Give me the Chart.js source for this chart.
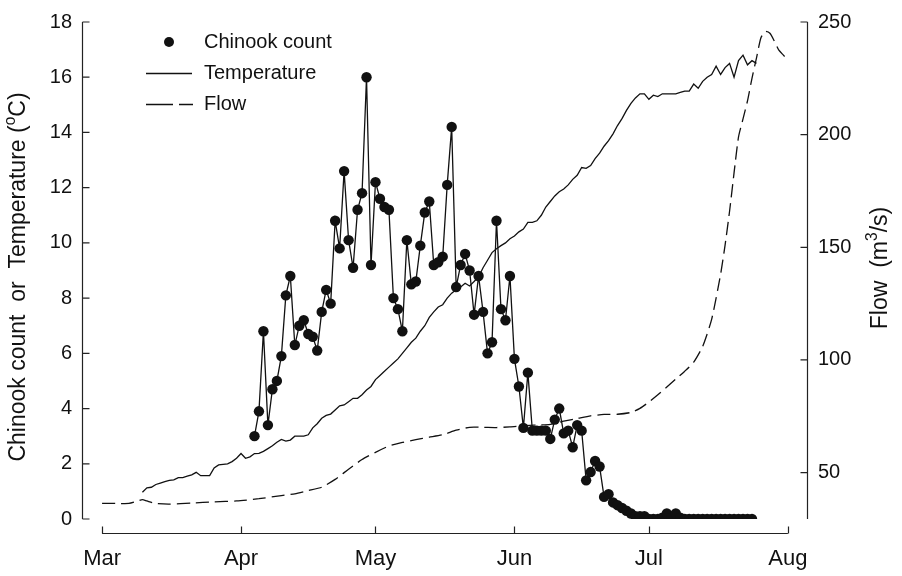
<!DOCTYPE html>
<html>
<head>
<meta charset="utf-8">
<script src="https://cdn.jsdelivr.net/npm/chart.js@4.4.1/dist/chart.umd.min.js"></script>
<style>
  body { margin: 0; background: #fff; }
  #wrap { width: 902px; height: 576px; }
</style>
</head>
<body>
<div id="wrap"><canvas id="chart" width="902" height="576"></canvas></div>
<script>
// days are counted from 1 March (day 0)
const monthDays = [0, 31, 61, 92, 122, 153];
const monthLabels = ['Mar', 'Apr', 'May', 'Jun', 'Jul', 'Aug'];
const leftTicks = [0, 2, 4, 6, 8, 10, 12, 14, 16, 18];
const flowTicks = [50, 100, 150, 200, 250];

// daily Chinook count, 4 Apr .. 24 Jul
const chinookStart = 34;
const chinookCount = [
  3.0, 3.9, 6.8, 3.4, 4.7, 5.0, 5.9, 8.1, 8.8, 6.3,
  7.0, 7.2, 6.7, 6.6, 6.1, 7.5, 8.3, 7.8, 10.8, 9.8,
  12.6, 10.1, 9.1, 11.2, 11.8, 16.0, 9.2, 12.2, 11.6, 11.3,
  11.2, 8.0, 7.6, 6.8, 10.1, 8.5, 8.6, 9.9, 11.1, 11.5,
  9.2, 9.3, 9.5, 12.1, 14.2, 8.4, 9.2, 9.6, 9.0, 7.4,
  8.8, 7.5, 6.0, 6.4, 10.8, 7.6, 7.2, 8.8, 5.8, 4.8,
  3.3, 5.3, 3.2, 3.2, 3.2, 3.2, 2.9, 3.6, 4.0, 3.1,
  3.2, 2.6, 3.4, 3.2, 1.4, 1.7, 2.1, 1.9, 0.8, 0.9,
  0.6, 0.5, 0.4, 0.3, 0.2, 0.1, 0.1, 0.1, 0, 0,
  0, 0.05, 0.2, 0.05, 0.2, 0.05, 0, 0, 0, 0,
  0, 0, 0, 0, 0, 0, 0, 0, 0, 0, 0, 0
];

// daily water temperature (°C), 10 Mar .. 25 Jul
const tempStart = 9;
const temperature = [
  0.97, 1.13, 1.15, 1.25, 1.3, 1.35, 1.4, 1.42, 1.5, 1.5,
  1.55, 1.6, 1.69, 1.57, 1.57, 1.57, 1.85, 1.96, 1.98, 2.0,
  2.08, 2.2, 2.37, 2.2, 2.25, 2.37, 2.38, 2.45, 2.55, 2.65,
  2.78, 2.88, 2.82, 2.86, 3.0, 3.0, 3.0, 3.05, 3.3, 3.45,
  3.65, 3.75, 3.8, 3.95, 4.1, 4.13, 4.25, 4.37, 4.37, 4.5,
  4.67, 4.8, 5.05, 5.2, 5.35, 5.5, 5.65, 5.8, 6.0, 6.2,
  6.4, 6.55, 6.8, 7.0, 7.3, 7.5, 7.68, 7.76, 8.0, 8.18,
  8.3, 8.4, 8.54, 8.44, 8.6, 8.77, 9.1, 9.37, 9.65, 9.79,
  9.9, 10.0, 10.15, 10.25, 10.4, 10.5, 10.74, 10.74, 10.8, 11.0,
  11.3, 11.5, 11.7, 11.85, 11.95, 12.1, 12.3, 12.45, 12.73, 12.7,
  12.8, 13.05, 13.25, 13.5, 13.7, 13.95, 14.25, 14.5, 14.8, 15.05,
  15.25, 15.4, 15.4, 15.2, 15.35, 15.3, 15.4, 15.4, 15.4, 15.4,
  15.45, 15.5, 15.5, 15.75, 15.6, 15.85, 16.0, 16.1, 16.4, 16.1,
  16.35, 16.5, 16.0, 16.6, 16.8, 16.45, 16.6, 16.5
];

// river flow (m3/s)
const flowDays = [0, 3, 6, 8, 9, 10, 12, 15, 20, 25, 30, 35, 40, 43, 46, 49, 52, 55, 58, 61,
  64, 67, 70, 73, 76, 79, 82, 85, 88, 91, 94, 97, 100, 103, 106, 109, 112, 115, 118, 120,
  122, 124, 126, 128, 130, 132, 134, 136, 138, 139, 140, 141, 142, 143, 144, 145, 146, 147, 148, 149,
  150, 151, 152, 153];
const flow = [36.3, 36.3, 36.3, 37.4, 38.0, 37.4, 36.3, 36.0, 36.5, 37.0, 37.4, 38.4, 39.8, 40.6, 42.0, 43.5, 47, 51.5, 55.8, 59,
  61.8, 63.4, 64.6, 65.7, 66.8, 68.8, 70.1, 70.1, 70.0, 70.3, 70.8, 71.1, 71.4, 72.8, 74.0, 75.2, 75.8, 75.9, 76.7, 78.5,
  81.3, 84.5, 88, 91.5, 95, 99, 106, 118, 138, 151, 166, 183, 199, 207, 215, 225, 234, 243, 245.8, 245,
  241.5, 237.5, 235.3, 233.2];

const FONT = "'Liberation Sans', Arial, Helvetica, sans-serif";
const INK = '#111';

// R-style detached axes, titles and legend
const decor = {
  id: 'decor',
  afterDraw(chart) {
    const { ctx, chartArea: a, scales } = chart;
    const x = scales.x, y = scales.y, y2 = scales.y2;
    const tl = 7;
    ctx.save();
    ctx.strokeStyle = '#222';
    ctx.lineWidth = 1.2;
    ctx.beginPath();
    // left axis
    const lx = a.left + 0.5;
    ctx.moveTo(lx, y.getPixelForValue(18));
    ctx.lineTo(lx, y.getPixelForValue(0));
    leftTicks.forEach(v => {
      const p = y.getPixelForValue(v);
      ctx.moveTo(lx, p); ctx.lineTo(lx + tl, p);
    });
    // right axis
    const rx = a.right - 0.5;
    ctx.moveTo(rx, y2.getPixelForValue(250));
    ctx.lineTo(rx, a.bottom);
    flowTicks.forEach(v => {
      const p = y2.getPixelForValue(v);
      ctx.moveTo(rx, p); ctx.lineTo(rx - tl, p);
    });
    // bottom axis, below the plot
    const by = a.bottom + 14.5;
    ctx.moveTo(x.getPixelForValue(monthDays[0]), by);
    ctx.lineTo(x.getPixelForValue(monthDays[monthDays.length - 1]), by);
    monthDays.forEach(v => {
      const p = Math.round(x.getPixelForValue(v)) + 0.5;
      ctx.moveTo(p, by); ctx.lineTo(p, by - tl);
    });
    ctx.stroke();

    // axis titles
    ctx.fillStyle = INK;
    const rotText = (parts, cx, cy, size) => {
      ctx.save();
      ctx.translate(cx, cy);
      ctx.rotate(-Math.PI / 2);
      let total = 0;
      parts.forEach(p => {
        ctx.font = (p.sup ? size * 0.68 : size) + 'px ' + FONT;
        p.w = ctx.measureText(p.t).width;
        total += p.w;
      });
      let px = -total / 2;
      ctx.textBaseline = 'middle';
      ctx.textAlign = 'left';
      parts.forEach(p => {
        ctx.font = (p.sup ? size * 0.68 : size) + 'px ' + FONT;
        ctx.fillText(p.t, px, p.sup ? -size * 0.38 : 0);
        px += p.w;
      });
      ctx.restore();
    };
    rotText([{ t: 'Chinook count  or  Temperature (' }, { t: 'o', sup: true }, { t: 'C)' }], 19, 277, 23);
    rotText([{ t: 'Flow  (m' }, { t: '3', sup: true }, { t: '/s)' }], 881, 268, 23);

    // legend
    ctx.font = '20px ' + FONT;
    ctx.textBaseline = 'middle';
    ctx.textAlign = 'left';
    ctx.beginPath();
    ctx.arc(169, 42, 5, 0, Math.PI * 2);
    ctx.fill();
    ctx.fillText('Chinook count', 204, 42);
    ctx.lineWidth = 1.3;
    ctx.strokeStyle = INK;
    ctx.beginPath();
    ctx.moveTo(146, 73.5); ctx.lineTo(192, 73.5);
    ctx.stroke();
    ctx.fillText('Temperature', 204, 73);
    ctx.setLineDash([27, 6]);
    ctx.beginPath();
    ctx.moveTo(146, 104.5); ctx.lineTo(193, 104.5);
    ctx.stroke();
    ctx.setLineDash([]);
    ctx.fillText('Flow', 204, 104);
    ctx.restore();
  }
};

const chinookPts = chinookCount.map((v, i) => ({ x: chinookStart + i, y: v }));
const tempPts = temperature.map((v, i) => ({ x: tempStart + i, y: v }));
const flowPts = flow.map((v, i) => ({ x: flowDays[i], y: v }));

new Chart(document.getElementById('chart').getContext('2d'), {
  type: 'line',
  data: {
    datasets: [
      {
        label: 'Chinook count',
        data: chinookPts,
        yAxisID: 'y',
        borderColor: INK,
        backgroundColor: INK,
        borderWidth: 1.3,
        pointRadius: 5.2,
        pointBorderWidth: 0,
        pointBackgroundColor: INK,
        tension: 0
      },
      {
        label: 'Temperature',
        data: tempPts,
        yAxisID: 'y',
        borderColor: INK,
        borderWidth: 1.3,
        pointRadius: 0,
        tension: 0
      },
      {
        label: 'Flow',
        data: flowPts,
        yAxisID: 'y2',
        borderColor: INK,
        borderWidth: 1.3,
        borderDash: [13, 6],
        pointRadius: 0,
        tension: 0.2
      }
    ]
  },
  options: {
    responsive: false,
    animation: false,
    parsing: false,
    layout: { padding: { top: 15, left: 0, right: 0, bottom: 0 } },
    plugins: { legend: { display: false }, tooltip: { enabled: false } },
    scales: {
      x: {
        type: 'linear',
        min: -4.48,
        max: 157.5,
        grid: { display: false, drawTicks: false },
        border: { display: false },
        afterBuildTicks: s => { s.ticks = monthDays.map(v => ({ value: v })); },
        afterFit: s => { s.height = 57; },
        ticks: {
          autoSkip: false,
          maxRotation: 0,
          padding: 27,
          color: INK,
          font: { family: FONT, size: 22 },
          callback: v => monthLabels[monthDays.indexOf(v)]
        }
      },
      y: {
        position: 'left',
        min: 0,
        max: 18,
        grid: { display: false, drawTicks: false },
        border: { display: false },
        afterBuildTicks: s => { s.ticks = leftTicks.map(v => ({ value: v })); },
        afterFit: s => { s.width = 82; },
        ticks: { padding: 10, color: INK, font: { family: FONT, size: 20 } }
      },
      y2: {
        position: 'right',
        min: 29.4,
        max: 250,
        grid: { display: false, drawTicks: false },
        border: { display: false },
        afterBuildTicks: s => { s.ticks = flowTicks.map(v => ({ value: v })); },
        afterFit: s => { s.width = 94; },
        ticks: { padding: 10, color: INK, font: { family: FONT, size: 20 } }
      }
    }
  },
  plugins: [decor]
});
</script>
</body>
</html>
